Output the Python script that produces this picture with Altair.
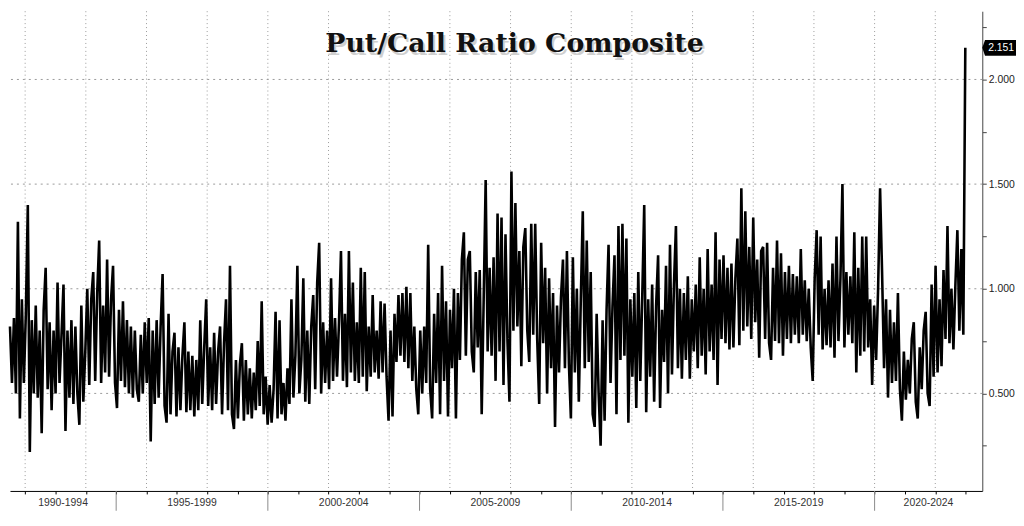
import altair as alt
import pandas as pd

# ---------------- data ----------------
TITLE = "Put/Call Ratio Composite"

# Put/Call composite values, evenly spaced in time from mid-1991 to end-2022
pcr_part1 = [
    0.82, 0.55, 0.86, 0.50, 1.32, 0.38, 0.95, 0.55, 0.88, 1.40,
    0.22, 0.85, 0.50, 0.92, 0.48, 0.80, 0.31, 0.90, 1.10, 0.52,
    0.84, 0.42, 0.80, 0.50, 1.03, 0.55, 0.78, 1.02, 0.32, 0.80,
    0.48, 0.85, 0.45, 0.82, 0.50, 0.35, 0.92, 0.46, 0.70, 1.00,
    0.54, 0.95, 1.08, 0.56, 0.98, 1.23, 0.55, 0.92, 0.60, 1.14,
    0.58, 0.95, 1.11, 0.55, 0.43, 0.90, 0.56, 0.94, 0.53, 0.85,
    0.50, 0.82, 0.48, 0.80, 0.52, 0.46, 0.78, 0.50, 0.84, 0.55,
    0.86, 0.27, 0.80, 0.45, 0.85, 0.48, 0.82, 1.07, 0.44, 0.36,
]
pcr_part2 = [
    0.88, 0.40, 0.70, 0.79, 0.39, 0.72, 0.42, 0.68, 0.84, 0.41,
    0.70, 0.42, 0.68, 0.39, 0.66, 0.42, 0.85, 0.45, 0.72, 0.95,
    0.44, 0.72, 0.42, 0.79, 0.45, 0.70, 0.82, 0.40, 0.74, 0.95,
    0.42, 1.11, 0.40, 0.33, 0.66, 0.38, 0.64, 0.74, 0.37, 0.66,
    0.40, 0.62, 0.38, 0.60, 0.42, 0.75, 0.44, 0.94, 0.40, 0.58,
    0.35, 0.54, 0.36, 0.52, 0.89, 0.38, 0.85, 0.40, 0.55, 0.37,
    0.62, 0.45, 0.95, 0.48, 0.68, 1.11, 0.50, 0.66, 1.05, 0.46,
    0.80, 0.45, 0.82, 0.97, 0.52, 1.03, 1.22, 0.50, 0.84, 0.55,
]
pcr_part3 = [
    0.80, 0.52, 1.05, 0.56, 0.86, 0.58, 0.84, 1.18, 0.56, 0.88,
    0.53, 1.18, 0.60, 1.03, 0.56, 0.84, 0.55, 1.10, 0.58, 1.08,
    0.51, 0.82, 0.58, 0.97, 0.60, 0.80, 0.57, 0.94, 0.60, 0.93,
    0.58, 0.37, 0.80, 0.39, 0.88, 0.65, 0.97, 0.68, 0.98, 0.65,
    1.01, 0.62, 0.98, 0.56, 0.82, 0.52, 0.40, 0.80, 0.50, 0.82,
    0.55, 1.21, 0.52, 0.38, 0.88, 0.55, 0.98, 0.40, 1.11, 0.56,
    0.94, 0.39, 0.90, 0.62, 1.00, 0.38, 0.98, 0.66, 1.14, 1.27,
    0.68, 1.14, 1.18, 0.70, 0.60, 1.08, 0.72, 1.09, 0.40, 0.95,
]
pcr_part4 = [
    1.52, 0.70, 1.10, 0.68, 1.15, 0.56, 1.36, 0.70, 1.34, 0.54,
    1.26, 0.75, 0.46, 1.56, 0.80, 1.41, 0.82, 1.18, 0.63, 1.20,
    1.29, 0.80, 0.65, 1.31, 0.78, 1.31, 0.76, 0.45, 1.22, 0.74,
    1.10, 0.50, 1.05, 0.62, 0.98, 0.34, 0.92, 0.60, 0.96, 1.14,
    0.62, 1.18, 0.64, 0.38, 1.15, 0.60, 1.00, 0.46, 0.95, 1.37,
    0.62, 1.23, 0.65, 1.08, 0.40, 0.34, 0.88, 0.50, 0.25, 0.85,
    0.37, 0.90, 1.21, 0.55, 0.92, 1.16, 0.40, 1.30, 0.66, 1.31,
    0.68, 1.24, 0.36, 0.95, 0.58, 0.98, 0.43, 1.08, 0.56, 0.96,
]
pcr_part5 = [
    1.40, 0.41, 0.95, 0.58, 1.02, 0.46, 0.92, 1.16, 0.43, 0.90,
    0.65, 1.11, 0.50, 1.21, 0.59, 1.02, 1.30, 0.62, 1.00, 0.57,
    0.98, 0.66, 1.06, 0.57, 0.95, 0.70, 1.02, 0.62, 1.15, 0.68,
    1.00, 0.59, 1.19, 0.70, 1.02, 0.66, 1.27, 0.54, 1.14, 0.76,
    1.16, 0.74, 1.10, 0.71, 1.12, 0.72, 1.05, 1.24, 0.73, 1.48,
    0.80, 1.37, 0.82, 1.20, 0.76, 1.34, 0.84, 1.14, 0.67, 1.18,
    1.20, 0.76, 1.22, 0.74, 0.66, 1.10, 0.75, 1.23, 0.74, 1.17,
    0.68, 1.08, 0.76, 1.11, 0.74, 1.07, 0.78, 1.06, 0.74, 1.19,
]
pcr_part6 = [
    0.78, 1.04, 0.75, 1.00, 0.72, 0.56, 1.05, 1.28, 0.78, 1.25,
    0.71, 1.00, 0.73, 1.04, 0.72, 1.12, 0.67, 1.25, 0.75, 1.05,
    1.50, 0.72, 1.08, 0.78, 1.06, 0.74, 1.27, 0.60, 1.10, 0.68,
    1.25, 0.70, 1.25, 0.72, 0.95, 0.54, 0.92, 0.66, 1.00, 1.48,
    1.08, 0.62, 0.95, 0.48, 0.90, 0.55, 0.84, 0.56, 0.98, 0.52,
    0.37, 0.70, 0.47, 0.66, 0.50, 0.76, 0.84, 0.46, 0.38, 0.72,
    0.52, 0.80, 0.89, 0.50, 0.44, 1.02, 0.58, 1.11, 0.60, 0.95,
    0.63, 1.09, 0.76, 1.30, 0.74, 1.00, 0.71, 1.02, 1.28, 0.80,
    1.19, 0.78, 2.151,
]
LAST_VALUE = 2.151
LAST_LABEL = "2.151"

START_YEAR = 1991.50
END_YEAR = 2022.99
X_DOMAIN = [1991.50, 2023.55]
Y_DOMAIN = [0.034, 2.326]

y_tick_values = [0.25, 0.5, 0.75, 1.0, 1.25, 1.5, 1.75, 2.0, 2.25]
y_grid_values = [0.5, 1.0, 1.5, 2.0]
x_tick_years = list(range(1992, 2024))
x_grid_years = list(range(1992, 2023, 2))
period_labels = ["1990-1994", "1995-1999", "2000-2004", "2005-2009",
                 "2010-2014", "2015-2019", "2020-2024"]
period_starts = [1990, 1995, 2000, 2005, 2010, 2015, 2020]
separator_years = [1995, 2000, 2005, 2010, 2015, 2020]

# ---------------- tables ----------------
values = pcr_part1 + pcr_part2 + pcr_part3 + pcr_part4 + pcr_part5 + pcr_part6
n = len(values)
step = (END_YEAR - START_YEAR) / (n - 1)
line_df = pd.DataFrame({"year": [START_YEAR + i * step for i in range(n)],
                        "value": values})

mids = []
for s in period_starts:
    a = max(s, X_DOMAIN[0])
    b = min(s + 5, X_DOMAIN[1])
    mids.append((a + b) / 2)
period_df = pd.DataFrame({"mid": mids, "label": period_labels})
sep_df = pd.DataFrame({"yr": separator_years})
vgrid_df = pd.DataFrame({"yr": x_grid_years})
hgrid_df = pd.DataFrame({"g": y_grid_values})
title_df = pd.DataFrame({"t": [TITLE]})
last_df = pd.DataFrame({"v": [LAST_VALUE], "lab": [LAST_LABEL]})

W = 981
H = 484
FONT = "Liberation Sans"

xscale = alt.Scale(domain=X_DOMAIN, nice=False, zero=False)
yscale = alt.Scale(domain=Y_DOMAIN, nice=False, zero=False)

XAX = alt.Axis(values=x_tick_years, labels=False, title=None, grid=False,
               tickSize=3, tickColor="#000000", domainColor="#000000", domainWidth=1)
YAX = alt.Axis(orient="right", values=y_tick_values, title=None, grid=False,
               labelExpr="datum.value % 0.5 == 0 ? format(datum.value, '.3f') : ''",
               labelFont=FONT, labelFontSize=10.5, labelColor="#222222",
               tickSize=4, tickColor="#444444", domainColor="#444444",
               labelPadding=2)

hgrid = alt.Chart(hgrid_df).mark_rule(color="#9a9a9a", strokeDash=[2, 4], strokeWidth=1).encode(
    y=alt.Y("g:Q", scale=yscale, axis=YAX)
)
vgrid = alt.Chart(vgrid_df).mark_rule(color="#9a9a9a", strokeDash=[1, 3], strokeWidth=1).encode(
    x=alt.X("yr:Q", scale=xscale, axis=XAX)
)

line = alt.Chart(line_df).mark_line(color="#000000", strokeWidth=2.6, strokeJoin="bevel").encode(
    x=alt.X("year:Q", scale=xscale, axis=XAX),
    y=alt.Y("value:Q", scale=yscale, axis=YAX),
)

separators = alt.Chart(sep_df).mark_rule(color="#8a8a8a", strokeWidth=1).encode(
    x=alt.X("yr:Q", scale=xscale, axis=XAX),
    y=alt.value(H),
    y2=alt.value(H + 20),
)
periods = alt.Chart(period_df).mark_text(font=FONT, fontSize=10.5, color="#333333",
                                         baseline="middle", align="center").encode(
    x=alt.X("mid:Q", scale=xscale, axis=XAX),
    y=alt.value(H + 12),
    text="label:N",
)

title_shadow = alt.Chart(title_df).mark_text(font="DejaVu Serif", fontWeight="bold", fontSize=27,
                                             color="#777777", opacity=0.35,
                                             align="center", baseline="middle", dx=2, dy=3).encode(
    x=alt.value(509), y=alt.value(33), text="t:N"
)
title = alt.Chart(title_df).mark_text(font="DejaVu Serif", fontWeight="bold", fontSize=27,
                                      color="#111111", align="center", baseline="middle").encode(
    x=alt.value(509), y=alt.value(33), text="t:N"
)

tag_path = "M -1 0 L -0.84 -0.47 L 1 -0.47 L 1 0.47 L -0.84 0.47 Z"
tag = alt.Chart(last_df).mark_point(shape=tag_path, filled=True, color="#000000",
                                    opacity=1, size=1156, strokeWidth=0).encode(
    x=alt.value(W + 17),
    y=alt.Y("v:Q", scale=yscale, axis=YAX),
)
tag_text = alt.Chart(last_df).mark_text(font=FONT, fontSize=10.5, color="#ffffff",
                                        align="center", baseline="middle", dx=2).encode(
    x=alt.value(W + 17),
    y=alt.Y("v:Q", scale=yscale, axis=YAX),
    text="lab:N",
)

chart = alt.layer(
    hgrid, vgrid, line, separators, periods, title_shadow, title, tag, tag_text
).properties(
    width=W, height=H, padding=0, background="#ffffff"
).configure_view(strokeWidth=0)

chart.save("out.html", embed_options={"renderer": "svg", "actions": False})
